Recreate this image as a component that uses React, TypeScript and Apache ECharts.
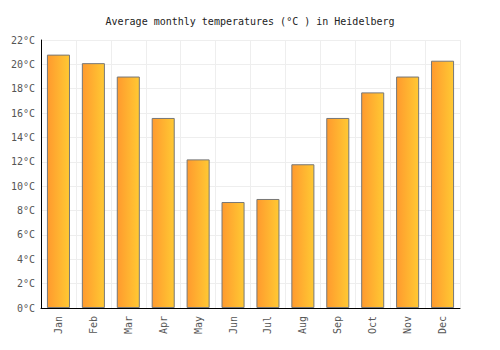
import React, { useEffect, useRef } from "react";
import * as echarts from "echarts";

const months = ["Jan", "Feb", "Mar", "Apr", "May", "Jun", "Jul", "Aug", "Sep", "Oct", "Nov", "Dec"];
const temps = [20.8, 20.1, 19.0, 15.6, 12.2, 8.7, 8.95, 11.8, 15.6, 17.7, 19.0, 20.3];

export default function App() {
  const ref = useRef<HTMLDivElement>(null);
  useEffect(() => {
    const chart = echarts.init(ref.current!, undefined, { renderer: "svg" });
    const font = "'DejaVu Sans Mono', monospace";
    chart.setOption({
      animation: false,
      title: {
        text: "Average monthly temperatures (°C ) in Heidelberg",
        left: "center",
        top: 11,
        textStyle: { fontFamily: font, fontSize: 10, fontWeight: "normal", color: "#222" },
      },
      grid: { left: 41, right: 40, top: 40, bottom: 42 },
      xAxis: {
        type: "category",
        data: months,
        axisLine: { lineStyle: { color: "#000", width: 1 } },
        axisTick: { show: false },
        axisLabel: { rotate: 90, fontFamily: font, fontSize: 10, color: "#555", margin: 8 },
        splitLine: { show: true, lineStyle: { color: "#eee" } },
      },
      yAxis: {
        type: "value",
        min: 0,
        max: 22,
        interval: 2,
        axisLine: { show: true, lineStyle: { color: "#000", width: 1 } },
        axisTick: { show: false },
        axisLabel: { formatter: "{value}°C", fontFamily: font, fontSize: 10, color: "#555", margin: 6 },
        splitLine: { show: true, lineStyle: { color: "#eee" } },
      },
      series: [
        {
          type: "bar",
          data: temps,
          barWidth: "66%",
          itemStyle: {
            color: new echarts.graphic.LinearGradient(0, 0, 1, 0, [
              { offset: 0, color: "#FF9A2E" },
              { offset: 1, color: "#FFC933" },
            ]),
            borderColor: "#777",
            borderWidth: 1,
          },
        },
      ],
    });
    return () => chart.dispose();
  }, []);
  return <div ref={ref} style={{ width: 500, height: 350, margin: -8 }} />;
}
